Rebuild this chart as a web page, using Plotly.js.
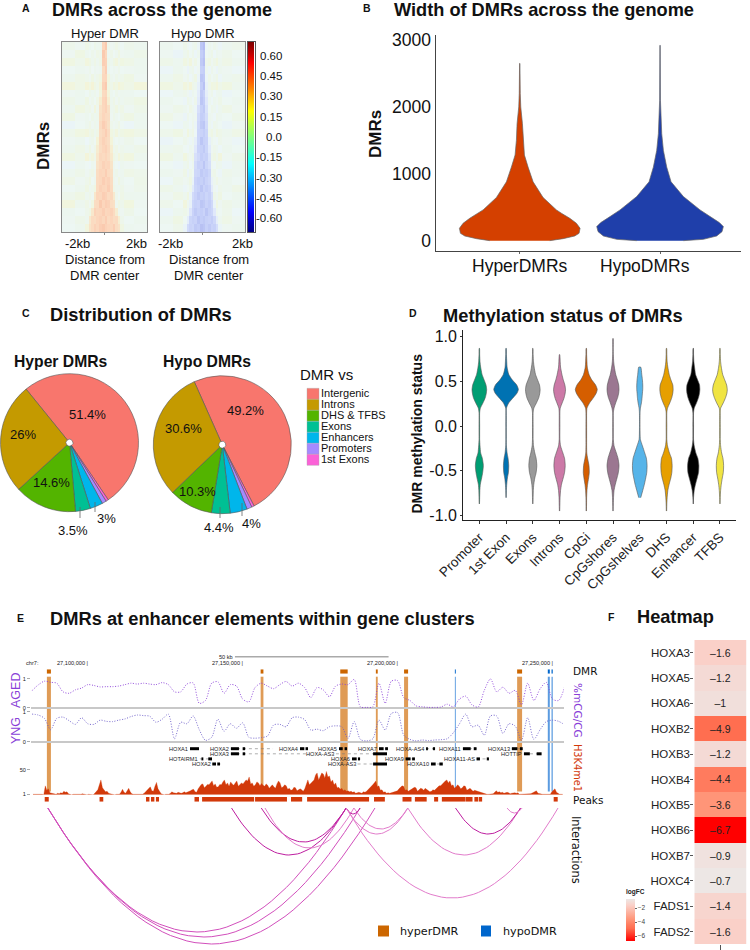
<!DOCTYPE html>
<html><head><meta charset="utf-8">
<script src="https://cdn.plot.ly/plotly-3.0.1.min.js"></script>
<style>html,body{margin:0;padding:0;background:#fff}</style></head>
<body><div id="chart" style="width:750px;height:950px"></div>
<script>
// ---------- Panel A: profile around DMR centre (hundredths of methylation difference)
const profileEdges=[-2000,-1400,-900,-750,-620,-500,-380,-240,-120,0,120,240,380,500,620,750,900,1400,2000];
const hyperMatrix=[
[6,3,8,5,2,7,4,5,40,46,6,3,5,8,4,2,6,4],[3,9,4,2,6,3,8,6,46,38,4,7,2,5,9,3,4,7],
[10,6,12,9,5,8,4,8,44,42,7,5,9,12,6,10,8,5],[2,4,3,6,1,5,3,4,36,44,5,2,4,3,6,2,3,4],
[5,8,6,3,9,4,7,10,38,40,12,5,3,7,4,6,9,3],[12,8,14,10,16,9,6,14,42,46,10,7,12,9,15,11,8,13],
[3,5,2,7,4,6,3,12,36,38,14,4,2,6,3,5,4,2],[7,4,9,3,6,2,8,22,40,42,20,5,8,3,7,4,6,9],
[4,10,6,8,3,12,5,30,38,42,32,4,6,10,5,8,3,7],[9,3,5,2,7,4,6,32,40,36,34,3,7,4,2,6,9,5],
[-4,2,5,8,3,6,4,36,44,40,32,6,3,5,8,2,-3,4],[6,10,12,7,9,5,8,34,38,44,36,10,7,12,6,9,11,8],
[3,5,-2,4,6,2,16,36,42,38,34,14,4,2,5,3,6,2],[5,8,4,9,3,7,22,34,40,42,36,20,5,8,3,6,4,7],
[10,6,14,8,12,7,26,38,36,40,34,24,9,6,13,8,11,5],[-3,4,2,-2,5,3,30,36,42,38,40,28,4,2,-3,5,3,2],
[4,7,3,6,8,4,34,40,38,44,36,32,5,7,3,4,8,6],[8,3,6,10,2,5,36,38,44,40,42,34,6,3,9,5,2,7],
[2,5,9,4,6,10,36,42,40,38,44,36,8,5,4,7,3,6],[6,9,4,7,3,26,40,38,44,42,36,38,24,6,2,8,5,4],
[12,5,8,3,10,34,36,46,40,44,42,34,32,4,9,6,11,3],[4,2,6,9,26,42,38,40,44,38,40,42,36,22,5,3,7,2],
[3,7,5,24,36,34,40,42,38,44,36,40,34,36,20,6,2,5],[2,5,12,28,36,42,38,44,46,42,40,38,44,34,30,10,4,3]];
const hypoMatrix=[
[5,2,7,3,-2,4,6,-4,-44,-48,-3,5,2,6,3,-3,4,6],[3,-4,5,8,2,6,-3,5,-40,-44,2,4,7,-2,5,3,6,2],
[7,4,10,6,12,3,8,2,-42,-46,6,9,3,7,11,5,8,4],[-3,5,2,-5,4,6,-2,3,-38,-40,4,-3,6,2,-4,5,3,-2],
[4,8,3,6,-2,5,9,-4,-44,-42,-3,7,2,5,8,-3,4,6],[10,6,12,8,14,7,5,-10,-40,-46,-8,6,11,9,13,7,10,5],
[-2,4,6,3,-4,5,2,-14,-42,-38,-12,3,6,-2,4,5,-3,2],[5,2,-3,7,4,-2,6,-18,-44,-40,-20,4,-2,5,3,7,2,4],
[3,7,5,2,8,4,-3,-26,-38,-42,-24,2,6,4,-3,5,8,3],[8,3,-4,6,2,5,3,-30,-40,-38,-28,5,3,-2,6,4,2,7],
[2,-3,5,4,-2,6,-4,-32,-42,-44,-30,4,-3,6,5,2,-4,3],[6,9,3,11,5,8,-2,-34,-36,-40,-34,6,9,4,10,7,5,8],
[-4,2,6,3,-3,4,-12,-34,-44,-38,-36,-10,5,2,-2,6,3,-3],[4,6,2,-2,5,3,-20,-36,-38,-42,-34,-18,3,6,4,-2,5,2],
[9,4,11,6,3,7,-26,-32,-40,-36,-38,-24,6,9,5,12,3,7],[2,-3,4,7,-2,5,-30,-38,-36,-44,-34,-28,3,-2,6,4,-3,5],
[5,3,8,-4,6,2,-32,-34,-42,-38,-40,-34,5,7,2,-3,6,4],[-2,6,3,5,9,-6,-36,-40,-38,-42,-36,-32,-8,4,8,3,5,2],
[7,4,-3,2,6,-18,-34,-38,-44,-36,-40,-36,-16,3,-2,6,4,8],[3,8,5,10,-4,-30,-36,-42,-38,-40,-34,-38,-28,7,4,9,2,5],
[6,2,12,4,-8,-34,-38,-36,-44,-42,-36,-40,-32,-6,10,3,7,4],[-3,5,7,3,-22,-36,-42,-38,-40,-36,-44,-38,-34,-20,5,2,6,-2],
[4,9,2,-14,-34,-38,-36,-44,-40,-42,-38,-36,-40,-32,-12,4,8,3],[2,6,-6,-30,-36,-34,-42,-40,-46,-44,-38,-42,-36,-38,-28,-4,3,5]];
const scaleLevels=[-0.7,-0.65,-0.6,-0.55,-0.5,-0.45,-0.4,-0.35,-0.3,-0.25,-0.2,-0.15,-0.1,-0.05,0,0.05,0.1,0.15,0.2,0.25,0.3,0.35,0.4,0.45,0.5,0.55,0.6,0.65,0.7];
const scaleTicks=[0.6,0.45,0.3,0.15,0,-0.15,-0.3,-0.45,-0.6];
const scaleTickText=['0.60','0.45','0.30','0.15','0.0','-0.15','-0.30','-0.45','-0.60'];
// ---------- Panel B
const widthCats=['HyperDMRs','HypoDMRs'];
const hyperWidthY=[0,30,70,110,185,260,335,410,460,645,880,1100,1280,1500,1750,2000,2200,2650];
const hyperDensity=[90,130,165,178,181,170,150,125,110,70,40,25,14,10,8,3,1.5,0.5];
const hypoWidthY=[0,20,70,135,210,270,360,460,660,880,1100,1350,1600,1850,2100,2920];
const hypoDensity=[70,130,170,186,190,178,150,120,70,33,20,10,5,2,1.2,0.5];
// ---------- Panel C
const pieLabels=['Intergenic','1st Exons','Promoters','Enhancers','Exons','DHS & TFBS','Introns'];
const pieColors=['#F8766D','#FB61D7','#A58AFF','#00B6EB','#00C094','#53B400','#C49A00'];
const hyperShares=[51.4,0.6,1.0,3.0,3.5,14.6,26];
const hypoShares=[49.2,0.6,1.2,4.0,4.4,10.3,30.6];
const legendOrder=['Intergenic','Introns','DHS & TFBS','Exons','Enhancers','Promoters','1st Exons'];
// ---------- Panel D
const statusCats=['Promoter','1st Exon','Exons','Introns','CpGi','CpGshores','CpGshelves','DHS','Enhancer','TFBS'];
const statusColors=['#009E73','#0072B2','#999999','#CC79A7','#D55E00','#9B7791','#56B4E9','#E69F00','#000000','#F0E442'];
const statusLevels=[-.95,-.87,-.8,-.72,-.65,-.58,-.52,-.44,-.36,-.3,-.22,-.15,0,.15,.2,.26,.32,.37,.41,.46,.52,.58,.66,.72,.8,.87,.98];
const promoterDens=[null,.5,1,1.5,3,7,10,12,9,4,2,1,1,1,3,11,18,21,22,20,14,8,4,2,1,.5,null];
const firstExonDens=[null,null,.5,1,2,4,7,8,6,3,1,.7,.7,.7,1,8,22,33,37,32,18,8,3,2,1,.5,null];
const exonsDens=[null,.5,1,1.5,3,6,10,12,10,6,2,1,1,1,3,11,18,21,22,20,14,8,4,2,1,.5,null];
const intronsDens=[.5,1,1.5,3,6,11,15,17,15,10,3,1,1,1,2,8,14,17,18,16,11,7,3,2,.5,null,null];
const cpgiDens=[.5,.8,1,2,4,7,9,8,4,1.5,1,1,1,1,2,10,22,30,33,28,16,8,3,2,1,.5,null];
const shoresDens=[.5,1,1.5,3,7,12,16,18,15,10,3,1,1,1,3,8,14,17,18,17,13,8,4,2,1,.8,.4];
const shelvesDens=[null,null,3,9,14,18,21,22,20,15,8,2,.8,1,2,5,7,8,9,9,8,6,3,null,null,null,null];
const dhsDens=[.5,1,2,4,8,13,16,17,15,9,3,1,1,1,3,10,16,19,20,19,13,8,4,2,1,.5,null];
const enhancerDens=[null,.5,1,3,7,12,16,17,14,8,3,1,1,1,3,10,16,19,20,19,13,7,4,2,1,.5,null];
const tfbsDens=[null,.5,1,2,4,7,10,11,9,5,2,1,1,1,2,10,17,21,22,20,14,8,4,2,1,.5,null];
const statusDens=[promoterDens,firstExonDens,exonsDens,intronsDens,cpgiDens,shoresDens,shelvesDens,dhsDens,enhancerDens,tfbsDens];
// ---------- Panel E: positions in kb past chr7:27,000,000
const mcgStartKb=81.7, mcgBinKb=2;
const agedMcg=[.59,.79,.92,.88,.85,.55,.5,.62,.68,.8,.77,.72,.73,.73,.75,.8,.85,.82,.85,.82,.8,.87,.8,.55,.55,.82,.86,.15,.25,.85,.9,.5,.8,.75,.3,.2,.7,.85,.75,.66,.8,.91,.75,.85,.7,.35,.7,.62,.38,.75,.82,.8,.98,.03,.01,.03,.85,.15,.92,.94,.35,.25,.06,.03,.01,.01,.02,.12,.03,.3,.4,.1,.02,.6,1,.55,.71,.5,.6,.1,.85,.25,.65,.88,.3,.25,.75];
const yngMcg=[.92,.89,.78,.4,.78,.82,.7,.58,.8,.6,.58,.72,.68,.67,.72,.76,.84,.89,.87,.85,.65,.75,.92,.1,.65,.6,.86,.4,.05,.15,.75,.35,.6,.45,.63,.15,.12,.14,.19,.56,.58,.5,.8,.82,.74,.39,.42,.37,.5,.53,.5,.11,.67,.08,.03,.1,.72,.39,.94,.97,.22,.08,.03,.06,.04,.06,.07,.1,.3,.6,.92,.5,.55,.22,.86,.86,.28,.6,.52,.05,.8,.08,.4,.67,.72,.68,.56];
const h3StartKb=82, h3EndKb=253;
const h3k4me1=[1,1,2,1,2,2,1,0,18,9,12,4,3,2,2,1,3,2,4,3,7,5,6,2,1,0,1,1,1,0,1,1,2,1,1,0,1,1,1,0,3,6,10,20,30,14,9,6,7,3,2,1,1,0,1,1,1,5,11,5,3,8,13,6,2,1,1,0,1,1,1,1,3,6,10,14,16,8,7,17,25,12,6,2,1,0,1,1,1,3,6,4,4,3,5,4,3,4,6,4,5,7,8,10,11,6,5,12,17,21,22,14,17,21,20,25,28,18,22,15,16,21,20,26,30,20,24,17,26,22,19,24,28,17,20,24,22,27,30,28,36,22,24,17,20,26,24,18,23,19,17,22,19,13,17,20,16,13,22,28,24,14,16,20,18,11,13,9,10,15,14,8,10,12,10,7,12,22,30,20,24,28,30,40,44,30,38,44,42,34,47,36,38,26,30,20,24,14,15,11,13,8,10,7,8,6,7,5,6,3,4,5,4,3,6,5,7,10,12,16,20,24,28,16,18,9,10,5,6,3,4,3,4,6,6,7,8,12,16,18,17,9,10,7,9,12,13,15,14,7,10,13,12,9,13,11,9,6,7,10,9,12,14,18,18,22,24,28,30,24,28,18,20,13,16,20,17,12,14,18,17,9,11,13,10,7,9,8,6,6,5,3,2,1,1,1,1,1,2,5,8,5,6,4,5,3,4,5,4,2,3,4,4,3,4,1,1,1,1,1,1,1,2,3,5,7,8,3,2,1,1,1,1,1,1,1,6,9,12,5,2,1,1,1];
const genomeTicks=[100,150,200,250];
const genomeTickText=['27,100,000 |','27,150,000 |','27,200,000 |','27,250,000 |'];
const dmrStart=[86.5,155.5,181.2,192.7,201.8,218.2,238.3,248.2,249.4];
const dmrEnd=[87.8,156.4,183.6,193.3,203.1,218.5,239.9,248.85,249.8];
const dmrKind=['hyper','hyper','hyper','hyper','hyper','hypo','hyper','hypo','hypo'];
const peakStart=[85.8,103.5,118.5,120.1,121.7,134.15,136.6,153.7,165.3,170.5,192.1,201.3,205.3,211.5,214,221.6,224.5,225.9,250.1];
const peakEnd=[87.1,104.7,119.6,121.2,122.7,135.6,153.4,164,168.9,190.5,195.6,204.2,209.1,212.8,221.5,223.9,225.7,227,251.4];
const geneNames=['HOXA1','HOXA2','HOXA3','HOTAIRM1','HOXA2','HOXA4','HOXA5','HOXA-AS3','HOXA6','HOXA-AS3','HOXA7','HOXA-AS4','HOXA9','HOXA10','HOXA11','HOXA11-AS','HOXA13','HOTTIP'];
const geneRow=[1,1,2,3,4,1,1,2,3,4,1,1,3,4,1,3,1,2];
const geneTxStart=[132.7,145.9,145.9,135.9,139.9,168.2,180.8,179.8,185,186.8,193.7,208.9,202.3,210.5,220.8,225.2,236.6,240.5];
const geneTxEnd=[135.6,159.5,171.4,139.8,142.4,170.8,183.4,196.3,187.6,196.3,196.6,211.8,205.3,214.3,225.2,229.2,240.1,246.2];
const geneExonStart=[[132.7],[145.9,149.7],[145.9,149.7],[136.4,138.6],[139.9,141.5],[168.2,170],[180.8,182.6],[191.8],[185,186.9],[191.8],[193.7,195.7],[208.9,211.1],[202.3,204.4],[210.5,213.2],[220.8,224.3],[225.2,228.5],[236.6,239.2],[240.5,244.6]];
const geneExonEnd=[[135.6],[148.5,150.5],[148.5,150.5],[137,139.8],[141.1,142.4],[169.6,170.8],[182,183.4],[196.3],[186.5,187.6],[196.3],[195.2,196.6],[209.5,211.8],[203.9,205.3],[212,214.3],[223.3,225.2],[226.3,229.2],[238.4,240.1],[242.4,246.2]];
const arcStart=[86.8,86.8,86.8,146.1,155.7,156.9,183.1,185.6,183.1,183.1,203,218.4,235];
const arcEnd=[183.1,187.6,192.4,183.1,183.1,185.6,203,203,187.6,251.5,239.4,239.4,239.9];
const arcDepth=[124,129,136,47,34,40,26,21,6,90,47,26,5];
const arcScore=[2,2,2,3,3,1,1,1,3,1,1,3,1];
// ---------- Panel F
const fcGenes=['HOXA3','HOXA5','HOXA6','HOXB2','HOXB3','HOXB4','HOXB5','HOXB6','HOXB7','HOXC4','FADS1','FADS2'];
const fcValues=[-1.6,-1.2,-1,-4.9,-1.2,-4.4,-3.6,-6.7,-0.9,-0.7,-1.4,-1.6];

// ---------- helpers
const W=750,H=950;
const dx=(a,b)=>[a/W,b/W];
const dy=(t,b)=>[1-b/H,1-t/H];
const SANS='"Liberation Sans",Arial,sans-serif';
const DJV='"DejaVu Sans",sans-serif';
const T=(text,x,y,size,o={})=>Object.assign({text,xref:'paper',yref:'paper',x:x/W,y:1-y/H,showarrow:false,xanchor:'center',yanchor:'middle',borderpad:0,font:{family:SANS,size,color:'#111'}},o);
const B=(text,x,y,size,o={})=>T('<b>'+text+'</b>',x,y,size,o);
const data=[];const annotations=[];const shapes=[];
const paleScale=[[0,'#8a8fe0'],[0.214,'#c4cef8'],[0.357,'#e0e8fb'],[0.46,'#e9f3f8'],[0.5,'#eef7f6'],[0.535,'#ecf6ee'],[0.571,'#eff6e2'],[0.607,'#f4f4d8'],[0.786,'#fcd6bc'],[1,'#f29a7c']];
const jet=[[0,'#00007F'],[0.11,'#0000FF'],[0.36,'#00FFFF'],[0.5,'#7FFF7F'],[0.64,'#FFFF00'],[0.89,'#FF0000'],[1,'#7F0000']];

// Panel A
function profile(matrix,xa,ya){
  data.push({type:'heatmap',x:profileEdges,y:matrix.map((_,i)=>i),z:matrix.map(r=>r.map(v=>v/100)),zmin:-0.7,zmax:0.7,colorscale:paleScale,showscale:false,hoverinfo:'skip',xaxis:xa,yaxis:ya});
}
profile(hyperMatrix,'x','y');profile(hypoMatrix,'x2','y2');
data.push({type:'heatmap',x:[0],y:scaleLevels,z:scaleLevels.map(v=>[v]),zmin:-0.7,zmax:0.7,colorscale:jet,showscale:false,zsmooth:'best',hoverinfo:'skip',xaxis:'x3',yaxis:'y3'});
scaleTicks.forEach((v,i)=>annotations.push(T(scaleTickText[i],283,0,11.5,{yref:'y3',y:v,xanchor:'right'})));

// Panel B
const bWidthScale=1/421;
[[hyperWidthY,hyperDensity,0,'#D44000'],[hypoWidthY,hypoDensity,1,'#1F3FAA']].forEach(([ys,ds,c,col])=>{
  const left=ds.map(d=>c-d*bWidthScale),right=ds.map(d=>c+d*bWidthScale).reverse();
  data.push({type:'scatter',mode:'lines',x:left.concat(right),y:ys.concat(ys.slice().reverse()),fill:'toself',fillcolor:col,line:{color:'#666',width:0.7},hoverinfo:'skip',xaxis:'x4',yaxis:'y4'});
});
annotations.push(T(widthCats[0],519.7,266,17.5),T(widthCats[1],644.7,266,17.5));

// Panel C
function pie(vals,rot,cx,cy){
  const r=69;
  data.push({type:'pie',labels:pieLabels,values:vals,sort:false,direction:'clockwise',rotation:rot,hole:0.05,textinfo:'none',hoverinfo:'skip',
    marker:{colors:pieColors,line:{color:'#555',width:0.6}},domain:{x:[(cx-r)/W,(cx+r)/W],y:[1-(cy+r)/H,1-(cy-r)/H]}});
}
pie(hyperShares,-39,69.5,442.7);pie(hypoShares,-24,222.3,444.7);

// Panel D
const dWidthScale=1/80.3;
statusDens.forEach((dens,c)=>{
  const ys=[],ds=[];
  dens.forEach((d,i)=>{if(d!==null){ys.push(statusLevels[i]);ds.push(d);}});
  data.push({type:'scatter',mode:'lines',x:ds.map(d=>c-d*dWidthScale).concat(ds.map(d=>c+d*dWidthScale).reverse()),y:ys.concat(ys.slice().reverse()),
    fill:'toself',fillcolor:statusColors[c],line:{color:'#555',width:0.6,shape:'spline',smoothing:0.6},hoverinfo:'skip',xaxis:'x5',yaxis:'y5'});
});

// Panel E
const PURPLE='#8A3FD8';
const bins=(arr,s,b)=>arr.map((_,i)=>s+i*b);
data.push({type:'scatter',mode:'lines',x:bins(agedMcg,mcgStartKb,mcgBinKb),y:agedMcg,line:{color:PURPLE,width:0.9,dash:'1px,1.6px',shape:'spline',smoothing:0.8},hoverinfo:'skip',xaxis:'x6',yaxis:'y6'});
data.push({type:'scatter',mode:'lines',x:bins(yngMcg,mcgStartKb,mcgBinKb),y:yngMcg,line:{color:'#6A5AC8',width:0.9,dash:'1px,1.6px',shape:'spline',smoothing:0.8},hoverinfo:'skip',xaxis:'x6',yaxis:'y7'});
data.push({type:'scatter',mode:'lines',x:bins(h3k4me1,h3StartKb,(h3EndKb-h3StartKb)/(h3k4me1.length-1)),y:h3k4me1,fill:'tozeroy',fillcolor:'#D2390A',line:{color:'#D2390A',width:0.3},hoverinfo:'skip',xaxis:'x6',yaxis:'y9'});
const mid=(a,b)=>a.map((v,i)=>(v+b[i])/2);
const span=(a,b)=>a.map((v,i)=>b[i]-v);
data.push({type:'bar',x:mid(peakStart,peakEnd),width:span(peakStart,peakEnd),y:peakStart.map(()=>1),marker:{color:'#D2390A',line:{width:0}},hoverinfo:'skip',xaxis:'x6',yaxis:'y10'});
const dmrCol=k=>k==='hyper'?'#CC6600':'#0066CC';
data.push({type:'bar',x:mid(dmrStart,dmrEnd),width:span(dmrStart,dmrEnd),y:dmrStart.map(()=>1),marker:{color:dmrKind.map(dmrCol),line:{width:0}},hoverinfo:'skip',xaxis:'x6',yaxis:'y12'});
dmrStart.forEach((s,i)=>shapes.push({type:'rect',xref:'x6',yref:'paper',x0:s,x1:dmrEnd[i],y0:1-791.5/H,y1:1-676.7/H,fillcolor:dmrKind[i]==='hyper'?'#DF9B56':'#5B9BE0',line:{width:0},layer:'below'}));
// genes
const txX=[],txY=[],exX=[],exY=[];
geneNames.forEach((g,i)=>{
  txX.push(geneTxStart[i],geneTxEnd[i],null);txY.push(geneRow[i],geneRow[i],null);
  geneExonStart[i].forEach((s,j)=>{exX.push(s,geneExonEnd[i][j],null);exY.push(geneRow[i],geneRow[i],null);});
  annotations.push(T(g,0,0,5.6,{xref:'x6',yref:'y8',x:geneTxStart[i]-0.25,y:geneRow[i],xanchor:'right',font:{family:SANS,size:5.6,color:'#222'}}));
});
data.push({type:'scatter',mode:'lines',x:txX,y:txY,line:{color:'#777',width:0.6,dash:'dot'},hoverinfo:'skip',xaxis:'x6',yaxis:'y8'});
data.push({type:'scatter',mode:'lines',x:exX,y:exY,line:{color:'#000',width:3},hoverinfo:'skip',xaxis:'x6',yaxis:'y8'});
const arcColor={1:'#E27CCB',2:'#D24FBC',3:'#BE1EA0'};
arcStart.forEach((s,i)=>{
  const e=arcEnd[i],d=arcDepth[i],xs=[],ys=[];
  for(let k=-20;k<=20;k++){const u=k/20;xs.push((s+e)/2+u*(e-s)/2);ys.push(d*(1-u*u));}
  data.push({type:'scatter',mode:'lines',x:xs,y:ys,line:{color:arcColor[arcScore[i]],width:1},hoverinfo:'skip',xaxis:'x6',yaxis:'y11'});
});
genomeTicks.forEach((k,i)=>annotations.push(T(genomeTickText[i],0,662.7,5.6,{xref:'x6',x:k+0.2,xanchor:'right',font:{family:SANS,size:5.6,color:'#222'}})));
annotations.push(T('chr7:',25,662.7,5.6,{xanchor:'left',font:{family:SANS,size:5.6,color:'#222'}}));
annotations.push(T('50 kb',234,657,5.6,{xanchor:'right',font:{family:SANS,size:5.6,color:'#222'}}));
shapes.push({type:'line',xref:'x6',yref:'paper',x0:147.2,x1:196.8,y0:1-656.7/H,y1:1-656.7/H,line:{color:'#aaa',width:1.5}});

// Panel F
data.push({type:'heatmap',x:[0],y:fcGenes,z:fcValues.map(v=>[v]),text:fcValues.map(v=>['\u2013'+Math.abs(v)]),texttemplate:'%{text}',textfont:{family:SANS,size:10.5,color:'#222'},
  zmin:-6.7,zmax:-0.7,hoverinfo:'skip',xaxis:'x7',yaxis:'y13',
  colorscale:[[0,'#FF0000'],[0.3,'#FF6E50'],[0.383,'#FF7B5E'],[0.517,'#FF9578'],[0.85,'#FAD0C8'],[1,'#EDE7E5']],
  colorbar:{x:626/W,xanchor:'left',xpad:0,ypad:0,y:1-886/H,yanchor:'top',len:55,lenmode:'pixels',thickness:9,thicknessmode:'pixels',outlinewidth:0,tickvals:[-2,-4,-6],ticks:'outside',ticklen:2,tickcolor:'#666',tickfont:{family:SANS,size:6.5,color:'#444'},title:{text:'<b>logFC</b>',side:'top',font:{family:SANS,size:6.5,color:'#222'}}}});

// Text
[['A',26,8],['B',367,8],['C',26,313],['D',412.5,313],['E',20,618],['F',611,617]].forEach(a=>annotations.push(B(a[0],a[1],a[2],10.5)));
annotations.push(B('DMRs across the genome',51,10.5,18,{xanchor:'left'}));
annotations.push(B('Width of DMRs across the genome',393,10.5,18.2,{xanchor:'left'}));
annotations.push(B('Distribution of DMRs',49,314,18.3,{xanchor:'left'}));
annotations.push(B('Methylation status of DMRs',441.5,316,18.3,{xanchor:'left'}));
annotations.push(B('DMRs at enhancer elements within gene clusters',49,618,18.3,{xanchor:'left'}));
annotations.push(B('Heatmap',636,617,18.2,{xanchor:'left'}));
annotations.push(T('Hyper DMR',105,33,13),T('Hypo DMR',203,33,13));
annotations.push(B('DMRs',44,146,17,{textangle:-90}));
[['-2kb',77,243],['2kb',136,243],['-2kb',170,243],['2kb',242,243],['Distance from',105,259],['DMR center',105,275],['Distance from',209,259],['DMR center',209,275]].forEach(a=>annotations.push(T(a[0],a[1],a[2],13)));
annotations.push(B('DMRs',376,134,17,{textangle:-90}));
annotations.push(B('Hyper DMRs',60.5,361,15.7),B('Hypo DMRs',206.5,361,15.7));
annotations.push(T('DMR vs',299,374,15,{xanchor:'left'}));
[['51.4%',87,414],['26%',23,434],['14.6%',51,482],['3.5%',73,530],['3%',106,518],['49.2%',245,410],['30.6%',183,428],['10.3%',197,491],['4.4%',219,527],['4%',251,523]].forEach(a=>annotations.push(T(a[0],a[1],a[2],13)));
[[80,507,518],[95,502,512],[220,507,518],[242,503,516]].forEach(l=>shapes.push({type:'line',xref:'paper',yref:'paper',x0:l[0]/W,x1:l[0]/W,y0:1-l[1]/H,y1:1-l[2]/H,line:{color:'#666',width:0.8}}));
legendOrder.forEach((name,i)=>{
  const top=388.3+i*11;
  shapes.push({type:'rect',xref:'paper',yref:'paper',x0:307/W,x1:319/W,y0:1-(top+11)/H,y1:1-top/H,fillcolor:pieColors[pieLabels.indexOf(name)],line:{color:'#aaa',width:0.4}});
  annotations.push(T(name,320,top+5,11,{xanchor:'left'}));
});
annotations.push(B('DMR methylation status',416.5,434,14,{textangle:-90}));
annotations.push(T('AGED',16,691,12,{textangle:-90,font:{family:SANS,size:12.5,color:PURPLE}}));
annotations.push(T('YNG',16,731,12,{textangle:-90,font:{family:SANS,size:12.5,color:PURPLE}}));
annotations.push(T('DMR',572,671,11,{xanchor:'left',font:{family:DJV,size:10.5,color:'#111'}}));
annotations.push(T('Peaks',572,800,11,{xanchor:'left',font:{family:DJV,size:10.5,color:'#111'}}));
annotations.push(T('%mCG/CG',578,710,11,{textangle:90,font:{family:DJV,size:10.5,color:PURPLE}}));
annotations.push(T('H3K4me1',578,768,11,{textangle:90,font:{family:DJV,size:9.8,color:'#D2390A'}}));
annotations.push(T('Interactions',576,850,11,{textangle:90,font:{family:DJV,size:11.4,color:'#111'}}));
shapes.push({type:'rect',xref:'paper',yref:'paper',x0:378/W,x1:389/W,y0:1-936.5/H,y1:1-925.5/H,fillcolor:'#CC6600',line:{width:0}});
shapes.push({type:'rect',xref:'paper',yref:'paper',x0:481/W,x1:491/W,y0:1-936.5/H,y1:1-925.5/H,fillcolor:'#0066CC',line:{width:0}});
annotations.push(T('hyperDMR',399,931,10,{xanchor:'left',font:{family:DJV,size:11.2,color:'#111'}}));
annotations.push(T('hypoDMR',501.5,931,10,{xanchor:'left',font:{family:DJV,size:11.2,color:'#111'}}));

const AXC='#888';
const heatX=(d)=>({domain:d,range:[-2000,2000],tickvals:[0],ticktext:[' '],ticks:'outside',ticklen:2,tickcolor:AXC,showline:true,mirror:true,linecolor:AXC,linewidth:1,showgrid:false,zeroline:false});
const heatY=(d)=>({domain:d,range:[23.5,-0.5],showticklabels:false,ticks:'',showline:true,mirror:true,linecolor:AXC,linewidth:1,showgrid:false,zeroline:false});
const E_X=[31,564],E_R=[81.37,253.43];
const mcgAxis=(d,r)=>({domain:d,range:r,anchor:'x6',tickvals:[0,1],ticktext:['0','1'],ticks:'outside',ticklen:3,tickwidth:0.5,tickcolor:'#555',tickfont:{family:SANS,size:5.6,color:'#222'},showgrid:false,showline:false,zeroline:true,zerolinecolor:'#c8c8c8',zerolinewidth:2});
const hidden=(d,r)=>({domain:d,range:r,anchor:'x6',visible:false,showgrid:false,zeroline:false});
const layout={width:W,height:H,margin:{l:0,r:0,t:0,b:0,pad:0},paper_bgcolor:'#fff',plot_bgcolor:'rgba(0,0,0,0)',showlegend:false,barmode:'overlay',font:{family:SANS,color:'#111'},annotations,shapes,
  xaxis:Object.assign(heatX(dx(62,147)),{anchor:'y'}),yaxis:Object.assign(heatY(dy(42,232)),{anchor:'x'}),
  xaxis2:Object.assign(heatX(dx(160,245)),{anchor:'y2'}),yaxis2:Object.assign(heatY(dy(42,232)),{anchor:'x2'}),
  xaxis3:{domain:dx(248,254.5),range:[-0.5,0.5],anchor:'y3',showticklabels:false,ticks:'',showline:true,mirror:true,linecolor:'#555',showgrid:false,zeroline:false},
  yaxis3:{domain:dy(42,232),range:[-0.7,0.7],anchor:'x3',side:'right',tickvals:scaleTicks,showticklabels:false,ticks:'',showline:true,mirror:true,linecolor:'#555',showgrid:false,zeroline:false},
  xaxis4:{domain:dx(436,741),range:[-0.597,1.577],anchor:'y4',tickmode:'array',tickvals:[0,1],ticktext:[' ',' '],ticks:'outside',ticklen:2,tickcolor:'#666',showline:true,linecolor:'#444',linewidth:1.5,showgrid:false,zeroline:false},
  yaxis4:{domain:dy(35,250.7),range:[-150,3075],anchor:'x4',tickvals:[0,1000,2000,3000],ticks:'',tickfont:{family:SANS,size:17.5,color:'#111'},showline:true,linecolor:'#444',linewidth:1.5,showgrid:false,zeroline:false},
  xaxis5:{domain:dx(463.3,736),range:[-0.6,9.6],anchor:'y5',tickmode:'array',tickvals:statusCats.map((_,i)=>i),ticktext:statusCats,tickangle:-45,ticks:'outside',ticklen:3,tickcolor:'#333',tickfont:{family:SANS,size:13.5,color:'#222'},showline:true,linecolor:'#222',linewidth:1.2,showgrid:false,zeroline:false},
  yaxis5:{domain:dy(330,520),range:[-1.05,1.075],anchor:'x5',tickvals:[-1,-0.5,0,0.5,1],ticktext:['-1.0','-0.5','0.0','0.5','1.0'],ticks:'outside',ticklen:2,tickcolor:'#333',tickfont:{family:SANS,size:16,color:'#111'},showline:true,linecolor:'#222',linewidth:1.2,showgrid:false,zeroline:false},
  xaxis6:{domain:dx(E_X[0],E_X[1]),range:E_R,anchor:'y10',visible:false,showgrid:false,zeroline:false},
  yaxis6:mcgAxis(dy(676,708.8),[-0.04,1.1]),
  yaxis7:mcgAxis(dy(709,743),[-0.04,1.09]),
  yaxis8:hidden(dy(746,767),[4.59,0.47]),
  yaxis9:{domain:dy(755.1,794.8),range:[0,80],anchor:'x6',tickvals:[1,50],ticktext:['1','50'],ticks:'outside',ticklen:3,tickwidth:0.5,tickcolor:'#555',tickfont:{family:SANS,size:5.6,color:'#222'},showgrid:false,showline:false,zeroline:false},
  yaxis10:hidden(dy(797,801.7),[0,1]),
  yaxis11:hidden(dy(808,948),[140,0]),
  yaxis12:hidden(dy(669.3,673.8),[0,1]),
  xaxis7:{domain:dx(694.3,746.7),range:[-0.5,0.5],anchor:'y13',tickvals:[0],ticktext:[' '],ticks:'outside',ticklen:5,tickcolor:'#555',showgrid:false,zeroline:false},
  yaxis13:{domain:dy(640,944.3),range:[11.5,-0.5],anchor:'x7',type:'category',ticks:'outside',ticklen:3,tickcolor:'#555',tickfont:{family:SANS,size:11.5,color:'#222'},ticklabelstandoff:-2,showgrid:false,zeroline:false,showline:false}
};
Plotly.newPlot('chart',data,layout,{displayModeBar:false,responsive:false,staticPlot:true});
</script></body></html>
